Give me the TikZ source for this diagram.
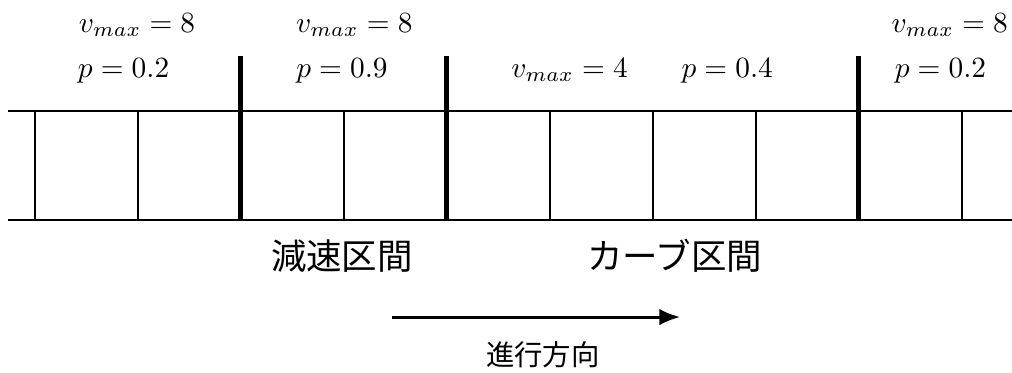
\documentclass[tikz,border=0pt]{standalone}
\usepackage{fontspec}
\newfontfamily\jpfont{Noto Sans CJK JP}
\usetikzlibrary{arrows.meta}
\tikzset{
  cellline/.style={line width=0.55pt, draw=black},
  border/.style={line width=1.2pt, draw=black},
  param/.style={anchor=base, scale=0.81, inner sep=0pt},
  zone/.style={font=\jpfont, scale=0.98, inner sep=0pt},
  arrow/.style={-{Latex[length=2mm,width=1.6mm]}, line width=0.8pt, draw=black}
}
\begin{document}
\begin{tikzpicture}
  \useasboundingbox (0,0) rectangle (9.825,3.612);
  % road edges
  \coordinate (tl) at (0.078,2.534);
  \coordinate (tr) at (9.825,2.534);
  \coordinate (bl) at (0.078,1.476);
  \coordinate (br) at (9.825,1.476);
  \draw[cellline] (tl) -- (tr);
  \draw[cellline] (bl) -- (br);
  % cell separators
  \draw[cellline] (0.335,1.476) -- (0.335,2.534);
  \draw[cellline] (1.335,1.476) -- (1.335,2.534);
  \draw[cellline] (3.335,1.476) -- (3.335,2.534);
  \draw[cellline] (5.335,1.476) -- (5.335,2.534);
  \draw[cellline] (6.335,1.476) -- (6.335,2.534);
  \draw[cellline] (7.335,1.476) -- (7.335,2.534);
  \draw[cellline] (9.335,1.476) -- (9.335,2.534);
  % section borders
  \draw[border] (2.335,1.476) -- (2.335,3.07);
  \draw[border] (4.335,1.476) -- (4.335,3.07);
  \draw[border] (8.335,1.476) -- (8.335,3.07);
  % parameters of each section
  \node[param] (vmA) at (1.33,3.30) {$v_{max}=8$};
  \node[param] (pA) at (1.20,2.864) {$p=0.2$};
  \node[param] (vmB) at (3.44,3.30) {$v_{max}=8$};
  \node[param] (pB) at (3.32,2.864) {$p=0.9$};
  \node[param] (vmC) at (5.53,2.864) {$v_{max}=4$};
  \node[param] (pC) at (7.06,2.864) {$p=0.4$};
  \node[param] (vmD) at (9.22,3.30) {$v_{max}=8$};
  \node[param] (pD) at (9.13,2.864) {$p=0.2$};
  % section names
  \node[zone] (slow) at (3.32,1.126) {減速区間};
  \node[zone] (curve) at (6.55,1.126) {カーブ区間};
  % direction of travel
  \coordinate (dirA) at (3.806,0.534);
  \coordinate (dirB) at (6.602,0.534);
  \draw[arrow] (dirA) -- (dirB);
  \node[zone, scale=0.8] (dir) at (5.27,0.165) {進行方向};
\end{tikzpicture}
\end{document}
